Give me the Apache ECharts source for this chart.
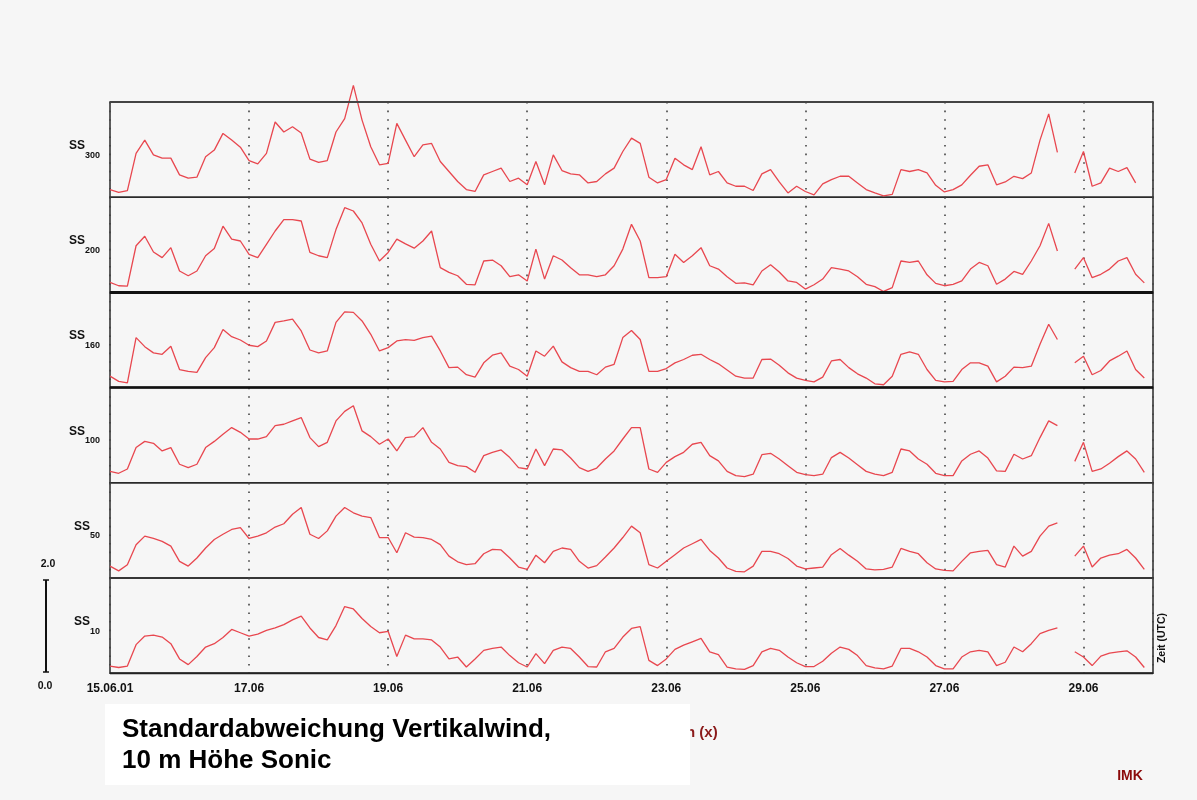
<!DOCTYPE html>
<html>
<head>
<meta charset="utf-8">
<title>Standardabweichung Vertikalwind</title>
<script src="https://cdn.jsdelivr.net/npm/echarts@6/dist/echarts.min.js"></script>
<style>
  html, body { margin: 0; padding: 0; background: #f6f6f6; }
  #chart { width: 1197px; height: 800px; }
</style>
</head>
<body>
<div id="chart"></div>
<script>
// one value every 3 h, starting 15.06.01 00:00 UTC; null = no data
var stepHours = 3;
var xTickLabels = ['15.06.01', '17.06', '19.06', '21.06', '23.06', '25.06', '27.06', '29.06'];
var panelHeights = ['300', '200', '160', '100', '50', '10'];

var ss300 = [0.16, 0.1, 0.14, 0.92, 1.2, 0.89, 0.82, 0.82, 0.47, 0.4, 0.42, 0.85, 0.99, 1.34, 1.2, 1.05,
  0.77, 0.7, 0.92, 1.58, 1.37, 1.48, 1.35, 0.8, 0.73, 0.77, 1.37, 1.65, 2.35, 1.62, 1.06, 0.68,
  0.71, 1.55, 1.2, 0.85, 1.1, 1.13, 0.75, 0.54, 0.33, 0.16, 0.12, 0.47, 0.54, 0.61, 0.33, 0.4,
  0.26, 0.75, 0.26, 0.89, 0.56, 0.49, 0.47, 0.3, 0.33, 0.49, 0.61, 0.96, 1.24, 1.13, 0.42, 0.3,
  0.37, 0.82, 0.68, 0.58, 1.06, 0.47, 0.54, 0.3, 0.23, 0.23, 0.14, 0.49, 0.58, 0.32, 0.09, 0.23,
  0.12, 0.05, 0.28, 0.37, 0.44, 0.44, 0.3, 0.16, 0.09, 0.03, 0.06, 0.58, 0.54, 0.58, 0.51, 0.25,
  0.11, 0.16, 0.26, 0.46, 0.65, 0.68, 0.26, 0.32, 0.44, 0.39, 0.51, 1.2, 1.75, 0.94, null, 0.51,
  0.96, 0.23, 0.3, 0.61, 0.54, 0.62, 0.3];

var ss200 = [0.21, 0.14, 0.13, 0.98, 1.18, 0.85, 0.73, 0.94, 0.45, 0.35, 0.45, 0.77, 0.92, 1.39, 1.12, 1.08,
  0.8, 0.73, 1.01, 1.29, 1.53, 1.53, 1.5, 0.84, 0.77, 0.73, 1.32, 1.78, 1.71, 1.46, 1.01, 0.66,
  0.84, 1.12, 1.02, 0.93, 1.08, 1.29, 0.52, 0.42, 0.35, 0.17, 0.16, 0.66, 0.68, 0.56, 0.33, 0.37,
  0.24, 0.91, 0.28, 0.77, 0.68, 0.52, 0.37, 0.37, 0.33, 0.37, 0.56, 0.91, 1.43, 1.08, 0.31, 0.31,
  0.33, 0.8, 0.63, 0.77, 0.94, 0.56, 0.49, 0.33, 0.19, 0.2, 0.16, 0.45, 0.58, 0.43, 0.24, 0.21,
  0.07, 0.16, 0.28, 0.52, 0.49, 0.45, 0.33, 0.17, 0.12, 0.02, 0.1, 0.66, 0.63, 0.66, 0.37, 0.19,
  0.14, 0.17, 0.24, 0.49, 0.63, 0.56, 0.17, 0.28, 0.44, 0.38, 0.66, 0.98, 1.45, 0.87, null, 0.49,
  0.73, 0.31, 0.38, 0.49, 0.66, 0.73, 0.38, 0.2];

var ss160 = [0.24, 0.13, 0.1, 1.05, 0.86, 0.73, 0.7, 0.87, 0.38, 0.34, 0.32, 0.63, 0.84, 1.22, 1.07, 1.0,
  0.89, 0.86, 0.98, 1.37, 1.4, 1.44, 1.19, 0.79, 0.73, 0.77, 1.37, 1.59, 1.58, 1.4, 1.12, 0.77,
  0.84, 0.98, 1.01, 0.99, 1.05, 1.08, 0.77, 0.42, 0.43, 0.27, 0.22, 0.52, 0.68, 0.73, 0.45, 0.38,
  0.24, 0.77, 0.66, 0.87, 0.54, 0.42, 0.34, 0.34, 0.27, 0.43, 0.49, 1.05, 1.2, 1.01, 0.34, 0.34,
  0.4, 0.52, 0.59, 0.68, 0.7, 0.59, 0.5, 0.37, 0.24, 0.2, 0.2, 0.59, 0.6, 0.47, 0.31, 0.2,
  0.15, 0.12, 0.22, 0.56, 0.59, 0.42, 0.29, 0.2, 0.08, 0.06, 0.24, 0.7, 0.75, 0.7, 0.38, 0.15,
  0.12, 0.13, 0.38, 0.52, 0.52, 0.45, 0.12, 0.24, 0.43, 0.42, 0.45, 0.91, 1.33, 1.01, null, 0.52,
  0.66, 0.27, 0.36, 0.56, 0.66, 0.77, 0.38, 0.2];

var ss100 = [0.24, 0.2, 0.29, 0.74, 0.87, 0.83, 0.67, 0.74, 0.39, 0.32, 0.39, 0.74, 0.87, 1.02, 1.16, 1.06,
  0.92, 0.92, 0.97, 1.2, 1.23, 1.3, 1.37, 0.95, 0.76, 0.85, 1.3, 1.5, 1.62, 1.09, 0.97, 0.81,
  0.92, 0.67, 0.95, 0.97, 1.16, 0.85, 0.71, 0.43, 0.36, 0.34, 0.22, 0.57, 0.64, 0.69, 0.53, 0.32,
  0.29, 0.71, 0.36, 0.71, 0.69, 0.52, 0.32, 0.24, 0.31, 0.5, 0.67, 0.92, 1.16, 1.16, 0.29, 0.22,
  0.43, 0.55, 0.64, 0.81, 0.85, 0.57, 0.46, 0.24, 0.15, 0.13, 0.18, 0.59, 0.62, 0.5, 0.36, 0.22,
  0.17, 0.15, 0.18, 0.53, 0.64, 0.52, 0.38, 0.24, 0.18, 0.15, 0.22, 0.71, 0.67, 0.5, 0.39, 0.2,
  0.15, 0.15, 0.46, 0.6, 0.67, 0.52, 0.25, 0.24, 0.6, 0.5, 0.57, 0.95, 1.3, 1.2, null, 0.45,
  0.85, 0.24, 0.29, 0.41, 0.55, 0.67, 0.5, 0.22];

var ss50 = [0.25, 0.15, 0.28, 0.7, 0.88, 0.83, 0.77, 0.67, 0.35, 0.25, 0.42, 0.63, 0.81, 0.92, 1.02, 1.06,
  0.83, 0.88, 0.95, 1.07, 1.14, 1.34, 1.48, 0.92, 0.83, 0.99, 1.3, 1.48, 1.37, 1.3, 1.27, 0.85,
  0.85, 0.53, 0.95, 0.86, 0.85, 0.81, 0.7, 0.46, 0.34, 0.28, 0.3, 0.51, 0.6, 0.59, 0.42, 0.23,
  0.18, 0.48, 0.32, 0.56, 0.63, 0.6, 0.35, 0.21, 0.26, 0.44, 0.63, 0.85, 1.09, 0.95, 0.28, 0.21,
  0.35, 0.49, 0.63, 0.72, 0.81, 0.58, 0.42, 0.21, 0.14, 0.13, 0.25, 0.56, 0.56, 0.51, 0.41, 0.25,
  0.19, 0.21, 0.23, 0.49, 0.62, 0.48, 0.35, 0.19, 0.17, 0.18, 0.23, 0.62, 0.56, 0.51, 0.32, 0.19,
  0.16, 0.15, 0.35, 0.53, 0.56, 0.58, 0.28, 0.23, 0.67, 0.46, 0.56, 0.88, 1.09, 1.16, null, 0.46,
  0.67, 0.23, 0.42, 0.48, 0.51, 0.6, 0.42, 0.18];

var ss10 = [0.15, 0.12, 0.15, 0.6, 0.78, 0.8, 0.76, 0.62, 0.3, 0.18, 0.35, 0.55, 0.62, 0.75, 0.92, 0.85,
  0.78, 0.82, 0.9, 0.95, 1.02, 1.12, 1.2, 0.95, 0.75, 0.7, 1.0, 1.4, 1.35, 1.15, 0.98, 0.85,
  0.88, 0.35, 0.8, 0.72, 0.72, 0.7, 0.55, 0.3, 0.34, 0.13, 0.3, 0.48, 0.52, 0.55, 0.37, 0.22,
  0.13, 0.41, 0.2, 0.48, 0.55, 0.52, 0.34, 0.14, 0.13, 0.45, 0.52, 0.76, 0.94, 0.98, 0.27, 0.16,
  0.3, 0.5, 0.59, 0.66, 0.73, 0.45, 0.39, 0.13, 0.09, 0.08, 0.16, 0.45, 0.52, 0.48, 0.34, 0.22,
  0.14, 0.14, 0.25, 0.42, 0.55, 0.5, 0.37, 0.16, 0.11, 0.09, 0.15, 0.52, 0.52, 0.45, 0.34, 0.16,
  0.09, 0.09, 0.34, 0.45, 0.48, 0.45, 0.16, 0.23, 0.55, 0.45, 0.62, 0.83, 0.9, 0.95, null, 0.45,
  0.34, 0.16, 0.36, 0.42, 0.45, 0.47, 0.34, 0.12];

var panels = [ss300, ss200, ss160, ss100, ss50, ss10];

var font = '"Liberation Sans", Arial, sans-serif';
var gridLeft = 110, gridWidth = 1043, gridTop = 102, gridH = 95.2;

var chart = echarts.init(document.getElementById('chart'));

var grids = [], xAxes = [], yAxes = [], series = [];
panels.forEach(function (vals, k) {
  grids.push({
    left: gridLeft, width: gridWidth, top: gridTop + k * gridH, height: gridH,
    show: true, borderColor: '#2a2a2a', borderWidth: 1.5, backgroundColor: 'transparent'
  });
  xAxes.push({
    gridIndex: k, type: 'value', min: 0, max: 360, interval: 48,
    axisLine: {show: false},
    axisTick: {show: false},
    axisLabel: {
      show: k === 5, margin: 9, color: '#111', fontFamily: font, fontWeight: 'bold', fontSize: 12,
      formatter: function (v) { return xTickLabels[v / 48] || ''; }
    },
    splitLine: {show: true, lineStyle: {color: '#444', width: 1.6, type: [1.6, 7]}}
  });
  yAxes.push({
    gridIndex: k, type: 'value', min: 0, max: 2,
    axisLine: {show: false}, axisTick: {show: false}, axisLabel: {show: false}, splitLine: {show: false},
    name: '{a|SS}{b|' + panelHeights[k] + '}',
    nameLocation: 'middle', nameRotate: 0, nameGap: 10,
    nameTextStyle: {
      rich: {
        a: {fontFamily: font, fontWeight: 'bold', fontSize: 12, color: '#111', lineHeight: 20, verticalAlign: 'top'},
        b: {fontFamily: font, fontWeight: 'bold', fontSize: 9, color: '#111', lineHeight: 20, verticalAlign: 'bottom'}
      }
    }
  });
  series.push({
    type: 'line', xAxisIndex: k, yAxisIndex: k,
    showSymbol: false, clip: false, animation: false,
    lineStyle: {color: '#e8474f', width: 1.3},
    data: vals.map(function (v, i) { return [i * stepHours, v === null ? '-' : v]; })
  });
});

function hLine(y, w, color) {
  return {type: 'line', shape: {x1: gridLeft, y1: y, x2: gridLeft + gridWidth, y2: y},
    style: {stroke: color, lineWidth: w}, z: 50};
}

chart.setOption({
  backgroundColor: '#f6f6f6',
  textStyle: {fontFamily: font},
  animation: false,
  grid: grids,
  xAxis: xAxes,
  yAxis: yAxes,
  series: series,
  graphic: [
    hLine(gridTop, 2, '#444'),
    hLine(gridTop + 2 * gridH, 3, '#111'),
    hLine(gridTop + 3 * gridH, 2.5, '#111'),
    hLine(gridTop + 6 * gridH, 2, '#222'),
    // scale bar
    {type: 'line', shape: {x1: 46, y1: 580, x2: 46, y2: 672}, style: {stroke: '#111', lineWidth: 2}},
    {type: 'line', shape: {x1: 43, y1: 580, x2: 49, y2: 580}, style: {stroke: '#111', lineWidth: 1.5}},
    {type: 'line', shape: {x1: 43, y1: 672, x2: 49, y2: 672}, style: {stroke: '#111', lineWidth: 1.5}},
    {type: 'text', x: 48, y: 564, style: {text: '2.0', font: 'bold 10.5px ' + font, fill: '#111', align: 'center', verticalAlign: 'middle'}},
    {type: 'text', x: 45, y: 686, style: {text: '0.0', font: 'bold 10.5px ' + font, fill: '#111', align: 'center', verticalAlign: 'middle'}},
    // time axis name
    {type: 'text', x: 1162, y: 638, rotation: Math.PI / 2,
      style: {text: 'Zeit (UTC)', font: 'bold 10.5px ' + font, fill: '#111', align: 'center', verticalAlign: 'middle'}},
    // caption behind white box
    {type: 'text', x: 686, y: 733, z: 60,
      style: {text: 'n (x)', font: 'bold 15px ' + font, fill: '#8b1a1a', align: 'left', verticalAlign: 'middle'}},
    {type: 'rect', shape: {x: 105, y: 704, width: 585, height: 81}, style: {fill: '#ffffff'}, z: 61},
    {type: 'text', x: 122, y: 730, z: 62,
      style: {text: 'Standardabweichung Vertikalwind,', font: 'bold 26px ' + font, fill: '#000', verticalAlign: 'middle'}},
    {type: 'text', x: 122, y: 761, z: 62,
      style: {text: '10 m Höhe Sonic', font: 'bold 26px ' + font, fill: '#000', verticalAlign: 'middle'}},
    // logo
    {type: 'text', x: 1130, y: 776,
      style: {text: 'IMK', font: 'bold 14px ' + font, fill: '#8b0a0a', align: 'center', verticalAlign: 'middle'}}
  ]
});
</script>
</body>
</html>
